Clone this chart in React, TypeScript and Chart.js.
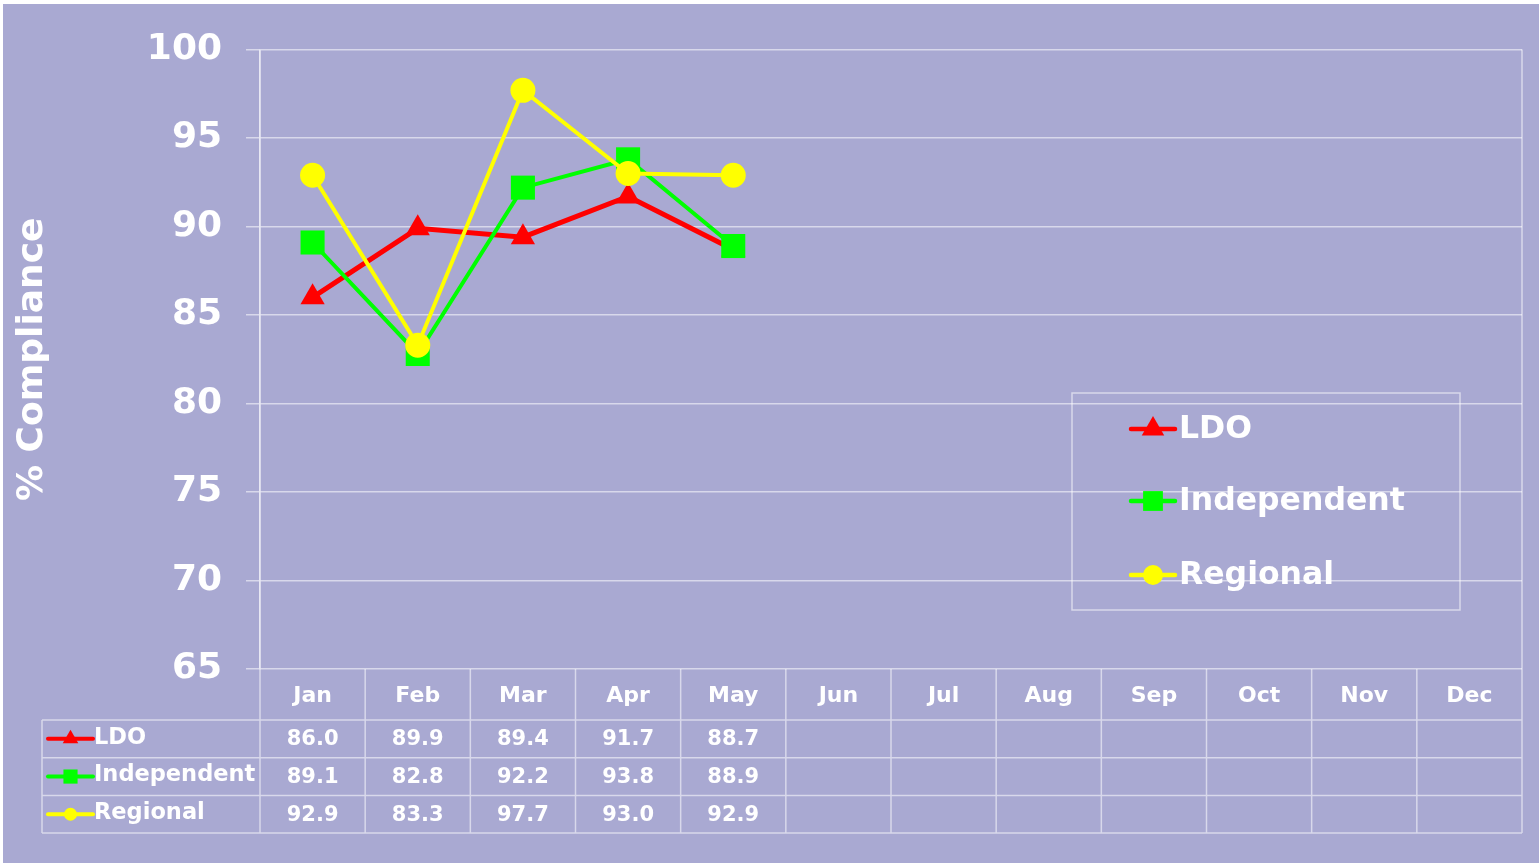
import React, { useEffect, useRef } from 'react';
import { Chart, registerables } from 'chart.js';

Chart.register(...registerables);

const months = ['Jan', 'Feb', 'Mar', 'Apr', 'May', 'Jun', 'Jul', 'Aug', 'Sep', 'Oct', 'Nov', 'Dec'];
const seriesNames = ['LDO', 'Independent', 'Regional'];
const ldoValues = [86.0, 89.9, 89.4, 91.7, 88.7];
const independentValues = [89.1, 82.8, 92.2, 93.8, 88.9];
const regionalValues = [92.9, 83.3, 97.7, 93.0, 92.9];
const yMin = 65;
const yMax = 100;
const yStep = 5;
const axisTitle = '% Compliance';

const seriesColors = ['#ff0000', '#00ff00', '#ffff00'];
const seriesMarkers = ['triangle', 'rect', 'circle'];
const seriesValues = [ldoValues, independentValues, regionalValues];

const BG = '#a9a9d2';
const GRID = 'rgba(255,255,255,0.55)';
const FONT = '"DejaVu Sans", Verdana, sans-serif';

function drawMarker(ctx: CanvasRenderingContext2D, style: string, x: number, y: number, r: number, color: string) {
  ctx.save();
  ctx.fillStyle = color;
  ctx.beginPath();
  if (style === 'triangle') {
    ctx.moveTo(x, y - r);
    ctx.lineTo(x + r * 0.866, y + r / 2);
    ctx.lineTo(x - r * 0.866, y + r / 2);
    ctx.closePath();
  } else if (style === 'rect') {
    const s = r * Math.SQRT1_2;
    ctx.rect(x - s, y - s, 2 * s, 2 * s);
  } else {
    ctx.arc(x, y, r, 0, Math.PI * 2);
  }
  ctx.fill();
  ctx.restore();
}

function drawSymbol(ctx: CanvasRenderingContext2D, i: number, x0: number, x1: number, y: number, lw: number, r: number) {
  ctx.save();
  ctx.strokeStyle = seriesColors[i];
  ctx.lineWidth = lw;
  ctx.lineCap = 'round';
  ctx.beginPath();
  ctx.moveTo(x0, y);
  ctx.lineTo(x1, y);
  ctx.stroke();
  ctx.restore();
  drawMarker(ctx, seriesMarkers[i], (x0 + x1) / 2, y, r, seriesColors[i]);
}

const tablePlugin = {
  id: 'tablePlugin',
  beforeDraw(chart: any) {
    const ctx = chart.ctx;
    ctx.save();
    ctx.fillStyle = BG;
    ctx.fillRect(0, 0, chart.width, chart.height);
    ctx.restore();
  },
  afterDraw(chart: any) {
    const ctx: CanvasRenderingContext2D = chart.ctx;
    const { left, right, top, bottom } = chart.chartArea;
    const xs = chart.scales.x;
    const colW = (right - left) / months.length;
    const headerH = 51;
    const rowH = 37.7;
    const rowYs = [bottom + headerH, bottom + headerH + rowH, bottom + headerH + 2 * rowH, bottom + headerH + 3 * rowH];
    const tableBottom = rowYs[3];
    const tableLeft = 39;

    ctx.save();
    ctx.strokeStyle = GRID;
    ctx.lineWidth = 1.5;
    ctx.beginPath();
    ctx.moveTo(left, top);
    ctx.lineTo(left, tableBottom);
    ctx.moveTo(right, top);
    ctx.lineTo(right, tableBottom);
    for (let i = 1; i < months.length; i++) {
      const x = left + i * colW;
      ctx.moveTo(x, bottom);
      ctx.lineTo(x, tableBottom);
    }
    for (const y of rowYs) {
      ctx.moveTo(tableLeft, y);
      ctx.lineTo(right, y);
    }
    ctx.moveTo(tableLeft, rowYs[0]);
    ctx.lineTo(tableLeft, tableBottom);
    ctx.stroke();

    ctx.fillStyle = '#ffffff';
    ctx.textAlign = 'center';
    ctx.textBaseline = 'middle';
    ctx.font = `bold 22px ${FONT}`;
    months.forEach((m, i) => {
      ctx.fillText(m, xs.getPixelForValue(i), bottom + headerH / 2 + 2);
    });

    seriesNames.forEach((name, s) => {
      const cy = rowYs[s] + rowH / 2;
      drawSymbol(ctx, s, 45, 90, cy, 4, s === 0 ? 9 : s === 1 ? 10 : 6.5);
      ctx.fillStyle = '#ffffff';
      ctx.textAlign = 'left';
      ctx.font = `bold 22.5px ${FONT}`;
      ctx.fillText(name, 91, cy - 1);
      ctx.textAlign = 'center';
      ctx.font = `bold 21px ${FONT}`;
      seriesValues[s].forEach((v, i) => {
        ctx.fillText(v.toFixed(1), xs.getPixelForValue(i), cy + 1);
      });
    });

    // legend box
    const lx = 1069, ly = 389, lw = 388, lh = 217;
    ctx.strokeStyle = GRID;
    ctx.lineWidth = 1.5;
    ctx.strokeRect(lx, ly, lw, lh);
    const entryYs = [425, 497, 571];
    seriesNames.forEach((name, s) => {
      drawSymbol(ctx, s, 1128, 1172, entryYs[s], 4.5, s === 0 ? 13 : s === 1 ? 14 : 10);
      ctx.fillStyle = '#ffffff';
      ctx.textAlign = 'left';
      ctx.textBaseline = 'middle';
      ctx.font = `bold 31.5px ${FONT}`;
      ctx.fillText(name, 1176, entryYs[s] + 1);
    });
    ctx.restore();
  },
};

export default function App() {
  const canvasRef = useRef<HTMLCanvasElement | null>(null);

  useEffect(() => {
    const canvas = canvasRef.current;
    if (!canvas) return;
    const chart = new Chart(canvas, {
      type: 'line',
      data: {
        labels: months,
        datasets: seriesNames.map((name, s) => ({
          label: name,
          data: seriesValues[s],
          borderColor: seriesColors[s],
          backgroundColor: seriesColors[s],
          pointBackgroundColor: seriesColors[s],
          pointBorderColor: seriesColors[s],
          pointBorderWidth: 0,
          pointStyle: seriesMarkers[s] as any,
          pointRadius: s === 0 ? 14 : s === 1 ? 17 : 12.5,
          pointHoverRadius: s === 0 ? 14 : s === 1 ? 17 : 12.5,
          borderWidth: s === 0 ? 5 : 4,
          tension: 0,
          fill: false,
          order: 3 - s,
          clip: false as any,
        })),
      },
      options: {
        responsive: false,
        animation: false,
        events: [],
        layout: { padding: { top: 43, right: 16, bottom: 194, left: 0 } },
        plugins: {
          legend: { display: false },
          tooltip: { enabled: false },
          title: { display: false },
        },
        scales: {
          x: {
            type: 'category',
            display: false,
            offset: true,
          },
          y: {
            min: yMin,
            max: yMax,
            afterFit: (scale: any) => {
              scale.width = 257;
            },
            ticks: {
              stepSize: yStep,
              color: '#ffffff',
              padding: 24,
              font: { family: FONT, size: 36, weight: 'bold' },
            },
            grid: {
              color: GRID,
              lineWidth: 1.5,
              tickLength: 14,
              drawTicks: true,
            },
            border: { display: true, color: GRID, width: 1.5 },
            title: {
              display: true,
              text: axisTitle,
              color: '#ffffff',
              padding: { top: 8, bottom: 0 },
              font: { family: FONT, size: 36, weight: 'bold' },
            },
          },
        },
      },
      plugins: [tablePlugin],
    });
    return () => chart.destroy();
  }, []);

  return (
    <div style={{ position: 'absolute', left: 3, top: 4, width: 1536, height: 859 }}>
      <canvas ref={canvasRef} width={1536} height={859} style={{ display: 'block' }} />
    </div>
  );
}
